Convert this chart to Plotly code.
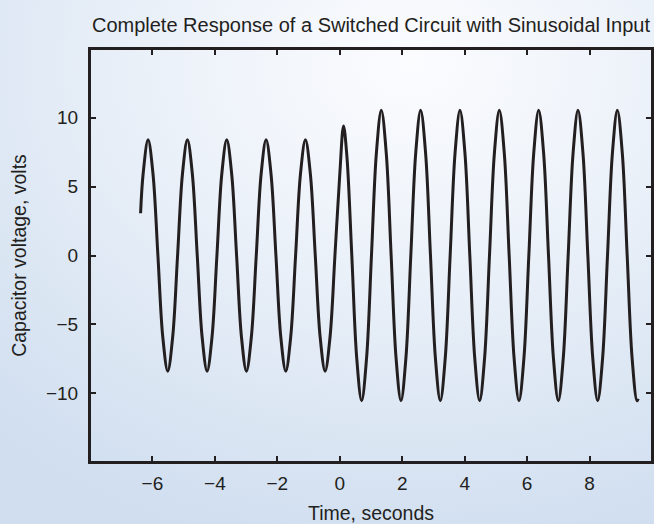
import plotly.graph_objects as go

# ---- data ----
# before the switch (t < 0): samples every 1/8 period, amplitude about 8.4 V
t_before = [-6.380, -6.298, -6.140, -5.983, -5.825, -5.668, -5.510, -5.353, -5.195, -5.038,
            -4.880, -4.723, -4.565, -4.408, -4.250, -4.093, -3.935, -3.778, -3.620, -3.463,
            -3.305, -3.148, -2.990, -2.833, -2.675, -2.518, -2.360, -2.203, -2.045, -1.888,
            -1.730, -1.573, -1.415, -1.258, -1.100, -0.943, -0.785, -0.628, -0.470, -0.313,
            -0.155]
v_before = [3.07, 5.94,
            8.4, 5.94, 0.0, -5.94, -8.4, -5.94, 0.0, 5.94,
            8.4, 5.94, 0.0, -5.94, -8.4, -5.94, 0.0, 5.94,
            8.4, 5.94, 0.0, -5.94, -8.4, -5.94, 0.0, 5.94,
            8.4, 5.94, 0.0, -5.94, -8.4, -5.94, 0.0, 5.94,
            8.4, 5.94, 0.0, -5.94, -8.4, -5.94, 0.0]

# after the switch (t >= 0): short transient, then amplitude about 10.55 V
t_after = [0.000, 0.120, 0.228, 0.385, 0.543,
           0.700, 0.858, 1.015, 1.173, 1.330, 1.488, 1.645, 1.803, 1.960, 2.118,
           2.275, 2.433, 2.590, 2.748, 2.905, 3.063, 3.220, 3.378, 3.535, 3.693,
           3.850, 4.008, 4.165, 4.323, 4.480, 4.638, 4.795, 4.953, 5.110, 5.268,
           5.425, 5.583, 5.740, 5.898, 6.055, 6.213, 6.370, 6.528, 6.685, 6.843,
           7.000, 7.158, 7.315, 7.473, 7.630, 7.788, 7.945, 8.103, 8.260, 8.418,
           8.575, 8.733, 8.890, 9.048, 9.205, 9.363, 9.520, 9.560]
v_after = [5.9, 9.4, 7.2, 0.0, -7.46,
           -10.55, -7.46, 0.0, 7.46,
           10.55, 7.46, 0.0, -7.46, -10.55, -7.46, 0.0, 7.46,
           10.55, 7.46, 0.0, -7.46, -10.55, -7.46, 0.0, 7.46,
           10.55, 7.46, 0.0, -7.46, -10.55, -7.46, 0.0, 7.46,
           10.55, 7.46, 0.0, -7.46, -10.55, -7.46, 0.0, 7.46,
           10.55, 7.46, 0.0, -7.46, -10.55, -7.46, 0.0, 7.46,
           10.55, 7.46, 0.0, -7.46, -10.55, -7.46, 0.0, 7.46,
           10.55, 7.46, 0.0, -7.46, -10.55,
           -10.4]

x_ticks = [-6, -4, -2, 0, 2, 4, 6, 8]
y_ticks = [-10, -5, 0, 5, 10]
x_range = [-8, 10]
y_range = [-15, 15]

assert len(t_before) == len(v_before)
assert len(t_after) == len(v_after)

t_all = t_before + t_after
v_all = v_before + v_after

# ---- layout geometry ----
W, H = 654, 524
ML, MR, MT, MB = 90, 2, 49, 62
PW, PH = W - ML - MR, H - MT - MB
INK = "#231f20"
FONT = "Liberation Sans, Arial, Helvetica, sans-serif"

fig = go.Figure()
fig.add_trace(go.Scatter(
    x=t_all, y=v_all, mode="lines",
    line=dict(color=INK, width=3, shape="spline", smoothing=1.0),
    showlegend=False, hoverinfo="skip",
))
# same curve bound to the top/right frame axes (drawn invisibly) so those axes render
fig.add_trace(go.Scatter(
    x=t_all, y=v_all, mode="lines", xaxis="x2", yaxis="y2",
    line=dict(color="rgba(0,0,0,0)", width=0),
    showlegend=False, hoverinfo="skip",
))

axis_common = dict(
    showgrid=False, zeroline=False,
    showline=True, linewidth=2, linecolor=INK,
    ticks="inside", ticklen=6, tickwidth=1.8, tickcolor=INK,
    tickfont=dict(family=FONT, size=19, color=INK),
)

fig.update_layout(
    width=W, height=H,
    margin=dict(l=ML, r=MR, t=MT, b=MB, autoexpand=False),
    paper_bgcolor="rgba(0,0,0,0)", plot_bgcolor="rgba(0,0,0,0)",
    font=dict(family=FONT, color=INK),
    title=dict(
        text="Complete Response of a Switched Circuit with Sinusoidal Input",
        font=dict(family=FONT, size=20, color=INK),
        x=(ML + PW / 2) / W, xanchor="center",
        y=1 - 25 / H, yanchor="middle", xref="container", yref="container",
    ),
    xaxis=dict(
        range=x_range, tickvals=x_ticks,
        title=dict(text="Time, seconds", font=dict(family=FONT, size=19.5, color=INK), standoff=14),
        ticklabelstandoff=3,
        **axis_common,
    ),
    yaxis=dict(
        range=y_range, tickvals=y_ticks,
        title=dict(text="Capacitor voltage, volts", font=dict(family=FONT, size=19.5, color=INK), standoff=14),
        ticklabelstandoff=6,
        **axis_common,
    ),
    xaxis2=dict(
        range=x_range, tickvals=x_ticks, overlaying="x", side="top", anchor="y",
        showticklabels=False, **axis_common,
    ),
    yaxis2=dict(
        range=y_range, tickvals=y_ticks, overlaying="y", side="right", anchor="x",
        showticklabels=False, **axis_common,
    ),
    shapes=[dict(
        type="rect", xref="paper", yref="paper", x0=0, x1=1, y0=0, y1=1,
        line=dict(color=INK, width=2), fillcolor="rgba(0,0,0,0)", layer="above",
    )],
)

# page styling: no default body margin, soft blue radial backdrop behind the transparent figure
page_js = (
    "document.documentElement.style.height='100%';"
    "document.body.style.margin='0';"
    "document.body.style.height='100%';"
    "document.body.style.overflow='hidden';"
    "document.body.style.backgroundColor='#dce7f4';"
    "document.body.style.backgroundImage='radial-gradient(ellipse 95% 95% at 63% 12%, "
    "#fbfcfe 0%, #eef3fa 35%, #dbe6f3 75%, #d0def0 100%)';"
    "document.body.style.backgroundRepeat='no-repeat';"
)
fig.write_html("out.html", config={"displayModeBar": False}, post_script=page_js)
